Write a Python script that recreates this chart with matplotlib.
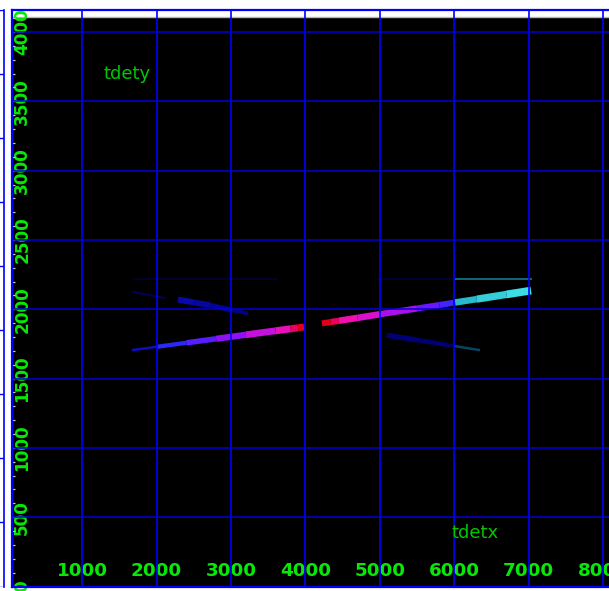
import numpy as np
import matplotlib
matplotlib.use("Agg")
import matplotlib.pyplot as plt
from matplotlib.collections import LineCollection
from matplotlib.colors import LinearSegmentedColormap

# bands of the tdetx / tdety histogram:
# points along each band and the relative intensity there
lo_x = [1670, 2000, 2400, 2800, 3200, 3600, 3800, 3900, 3980]
lo_y = [1705, 1729, 1758, 1787, 1816, 1845, 1859, 1866, 1873]
lo_v = [0.22, 0.36, 0.42, 0.52, 0.63, 0.73, 0.82, 0.98, 1.00]

hi_x = [4222, 4340, 4450, 4700, 5000, 5500, 5800, 6010]
hi_y = [1898, 1908, 1917, 1938, 1964, 2006, 2031, 2049]
hi_v = [1.00, 0.98, 0.84, 0.76, 0.70, 0.56, 0.47, 0.41]

cyan_x = [6010, 6300, 6700, 7030]
cyan_y = [2049, 2073, 2107, 2135]
cyan_v = [0.62, 0.80, 0.90, 1.00]

ul_x = [1667, 2114]
ul_y = [2127, 2081]
ul_v = [0.12, 0.16]

ul2_x = [2288, 2500, 2718, 3000, 3228]
ul2_y = [2070, 2050, 2030, 1995, 1970]
ul2_v = [0.27, 0.25, 0.24, 0.22, 0.19]

lr_x = [5091, 5500, 5900, 6009]
lr_y = [1813, 1778, 1743, 1734]
lr_v = [0.18, 0.19, 0.17, 0.15]

lr2_x = [6009, 6344]
lr2_y = [1734, 1705]
lr2_v = [0.30, 0.25]

flat_l_x = [1684, 3631]
flat_r_x = [4961, 6009]
flat_c_x = [6009, 7043]
flat_y = 2218

xticks = [1000, 2000, 3000, 4000, 5000, 6000, 7000, 8000]
yticks = [0, 500, 1000, 1500, 2000, 2500, 3000, 3500, 4000]

band = LinearSegmentedColormap.from_list("band", [
    (0.00, "#000000"), (0.10, "#00003c"), (0.20, "#000080"),
    (0.30, "#1010c8"), (0.40, "#2e2cff"), (0.50, "#6418ff"),
    (0.60, "#9a10f0"), (0.70, "#d010d8"), (0.80, "#f010b0"),
    (0.90, "#f00060"), (1.00, "#e00010")])
cyan = LinearSegmentedColormap.from_list("cyan", [
    (0.0, "#000040"), (0.4, "#0c6470"), (0.7, "#28b8c8"), (1.0, "#40e4ec")])

W, H = 609, 591
fig = plt.figure(figsize=(W / 100, H / 100), dpi=100)
fig.patch.set_facecolor("white")

ax = fig.add_axes([11.5 / W, (H - 586.5) / H, 1 - 11.5 / W, (586.5 - 10) / H])
ax.set_facecolor("white")
ax.set_xlim(52, 8077)
ax.set_ylim(0, 4159)
ax.axhspan(0, 4108, color="black", zorder=0.5, lw=0)
ax.axhline(4110, color="#b4b4b4", lw=1.0, zorder=0.6)


def streak(xs, ys, vs, w, cmap):
    pts = np.column_stack([xs, ys])
    segs = np.stack([pts[:-1], pts[1:]], axis=1)
    vals = (np.asarray(vs[:-1]) + np.asarray(vs[1:])) / 2
    widths = np.asarray(w, dtype=float)
    widths = (widths[:-1] + widths[1:]) / 2 * 0.72
    lc = LineCollection(segs, cmap=cmap, norm=plt.Normalize(0, 1),
                        linewidths=widths, capstyle="butt", zorder=2)
    lc.set_array(vals)
    ax.add_collection(lc)


streak(lo_x, lo_y, lo_v, [1.5, 3.5, 5, 6, 6.5, 7, 7, 7, 7], band)
streak(hi_x, hi_y, hi_v, [6, 6, 6.5, 6.5, 6.5, 6, 6, 6], band)
streak(cyan_x, cyan_y, cyan_v, [6, 7, 7.5, 8], cyan)
streak(ul_x, ul_y, ul_v, [1.5, 2.5], band)
streak(ul2_x, ul2_y, ul2_v, [6, 6, 5.5, 4.5, 3], band)
streak(lr_x, lr_y, lr_v, [5.5, 5, 4, 3], band)
streak(lr2_x, lr2_y, lr2_v, [3, 2], cyan)
streak(flat_l_x, [flat_y, flat_y], [0.09, 0.09], [1.5, 1.5], band)
streak(flat_r_x, [flat_y, flat_y], [0.11, 0.11], [1.5, 1.5], band)
streak(flat_c_x, [flat_y, flat_y], [0.45, 0.45], [1.8, 1.8], cyan)

# grid
for xv in xticks:
    ax.axvline(xv, color="#0000ff", lw=1.2, zorder=3)
for yv in yticks:
    ax.axhline(yv, color="#0000d8", lw=1.1, zorder=3)

for side in ["top", "left", "bottom"]:
    ax.spines[side].set_color("#0000ff")
    ax.spines[side].set_linewidth(1.6)
    ax.spines[side].set_zorder(4)
ax.spines["right"].set_visible(False)

green = "#08e808"
ax.set_xticks(xticks)
ax.set_xticklabels([str(v) for v in xticks])
ax.tick_params(axis="x", length=0, pad=-11.5, labelsize=13.2,
               labelcolor=green)
for lab in ax.get_xticklabels():
    lab.set_fontweight("bold")
    lab.set_va("center")

ax.set_yticks(yticks)
ax.set_yticks(np.arange(100, 4101, 100), minor=True)
ax.set_yticklabels([str(v) for v in yticks])
ax.tick_params(axis="y", which="both", direction="in", length=2.2,
               width=0.9, color="#c8c8c8")
ax.tick_params(axis="y", which="major", pad=-1.2, labelsize=12.2,
               labelcolor=green, labelrotation=90)
for lab in ax.get_yticklabels():
    lab.set_fontweight("bold")
    lab.set_ha("left")
    lab.set_va("center")

ax.text(1282, 3697, "tdety", color="#00c800", fontsize=13, ha="left",
        va="center", zorder=5)
ax.text(5960, 385, "tdetx", color="#00c800", fontsize=13, ha="left",
        va="center", zorder=5)

# edge of the neighbouring panel at the far left
side = fig.add_axes([0, (H - 586.5) / H, 4 / W, (586.5 - 10) / H])
side.set_facecolor("white")
side.set_xlim(0, 1)
side.set_ylim(0, 9)
side.set_xticks([])
side.set_yticks(np.arange(0, 10, 1))
side.set_yticklabels([])
side.tick_params(axis="y", length=0)
side.grid(axis="y", color="#0000ff", lw=1.0)
for s in ["top", "left", "bottom"]:
    side.spines[s].set_visible(False)
side.spines["right"].set_color("#0000ff")
side.spines["right"].set_linewidth(1.2)

fig.savefig("out.png", dpi=100, facecolor="white")
